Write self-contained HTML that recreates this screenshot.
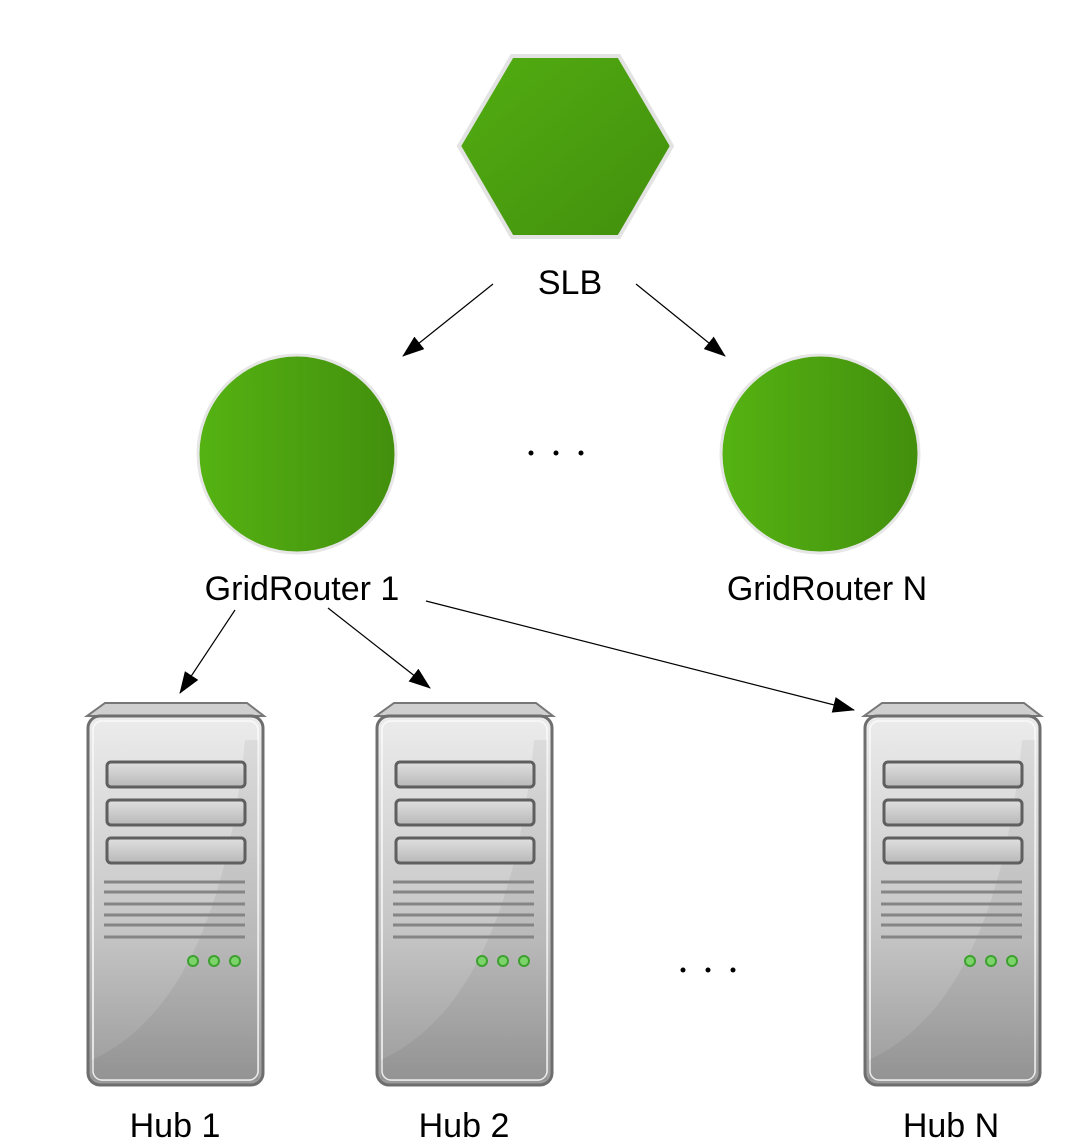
<!DOCTYPE html>
<html><head><meta charset="utf-8"><style>html,body{margin:0;padding:0;background:#fff}svg{display:block}</style></head>
<body>
<svg width="1088" height="1148" viewBox="0 0 1088 1148" xmlns="http://www.w3.org/2000/svg" font-family="Liberation Sans, sans-serif">
<defs>
<linearGradient id="hex" x1="0" y1="0" x2="1" y2="1"><stop offset="0" stop-color="#52ad11"/><stop offset="1" stop-color="#428f0d"/></linearGradient>
<linearGradient id="circ" x1="0" y1="0" x2="1" y2="0"><stop offset="0" stop-color="#55b312"/><stop offset="1" stop-color="#428f0d"/></linearGradient>
<linearGradient id="body" x1="0" y1="0" x2="0" y2="1"><stop offset="0" stop-color="#ececec"/><stop offset="0.6" stop-color="#c4c4c4"/><stop offset="1" stop-color="#9a9a9a"/></linearGradient>
<linearGradient id="panel" x1="0" y1="0" x2="0" y2="1"><stop offset="0" stop-color="#e0e0e0"/><stop offset="1" stop-color="#b8b8b8"/></linearGradient>
<marker id="ar" markerWidth="22" markerHeight="16" refX="21" refY="8" orient="auto" markerUnits="userSpaceOnUse" viewBox="0 0 22 16"><path d="M0,0 L22,8 L0,16 z" fill="#000"/></marker>
<g id="srv">
<path d="M105,703 L247,703 L264,716 L87,716 z" fill="#cfcfcf" stroke="#777" stroke-width="2"/>
<rect x="88" y="716" width="175" height="369" rx="12" fill="url(#body)" stroke="#6e6e6e" stroke-width="3"/>
<rect x="93" y="721" width="165" height="359" rx="9" fill="none" stroke="#fafafa" stroke-width="1.5"/>
<path d="M92,1060 Q220,1000 245,740 L258,740 L258,1080 L92,1080 z" fill="#000" opacity="0.05"/>
<rect x="107" y="762" width="138" height="25" rx="4" fill="url(#panel)" stroke="#5f5f5f" stroke-width="3"/>
<rect x="107" y="800" width="138" height="25" rx="4" fill="url(#panel)" stroke="#5f5f5f" stroke-width="3"/>
<rect x="107" y="838" width="138" height="25" rx="4" fill="url(#panel)" stroke="#5f5f5f" stroke-width="3"/>
<g stroke="#858585" stroke-width="3">
<line x1="104" y1="882" x2="245" y2="882"/><line x1="104" y1="892" x2="245" y2="892"/><line x1="104" y1="904" x2="245" y2="904"/><line x1="104" y1="915" x2="245" y2="915"/><line x1="104" y1="925" x2="245" y2="925"/><line x1="104" y1="937" x2="245" y2="937"/>
</g>
<g fill="#7cd36a" stroke="#3ea030" stroke-width="2"><circle cx="193" cy="961" r="5"/><circle cx="214" cy="961" r="5"/><circle cx="235" cy="961" r="5"/></g>
</g>
</defs>
<polygon points="512,56 619,56 672,146 619,237 512,237 459,146" fill="url(#hex)" stroke="#e3e3e3" stroke-width="4"/>
<circle cx="297" cy="454" r="99" fill="url(#circ)" stroke="#e6e6e6" stroke-width="3"/>
<circle cx="820" cy="454" r="99" fill="url(#circ)" stroke="#e6e6e6" stroke-width="3"/>
<use href="#srv"/>
<use href="#srv" x="289"/>
<use href="#srv" x="777"/>
<g font-size="34" fill="#000" text-anchor="middle">
<text x="570" y="294">SLB</text>
<text x="302" y="600">GridRouter 1</text>
<text x="827" y="600">GridRouter N</text>
<text x="175" y="1137">Hub 1</text>
<text x="464" y="1137">Hub 2</text>
<text x="951" y="1137">Hub N</text>
</g>
<g fill="#000">
<circle cx="531" cy="453" r="2.5"/><circle cx="556" cy="453" r="2.5"/><circle cx="581" cy="453" r="2.5"/>
<circle cx="683" cy="970" r="2.5"/><circle cx="708" cy="970" r="2.5"/><circle cx="733" cy="970" r="2.5"/>
</g>
<g stroke="#000" stroke-width="1.2" fill="none" marker-end="url(#ar)">
<line x1="493" y1="284" x2="403" y2="356"/>
<line x1="636" y1="284" x2="725" y2="356"/>
<line x1="235" y1="610" x2="180" y2="693"/>
<line x1="328" y1="608" x2="430" y2="688"/>
<line x1="426" y1="601" x2="854" y2="710"/>
</g>
</svg>
</body></html>
